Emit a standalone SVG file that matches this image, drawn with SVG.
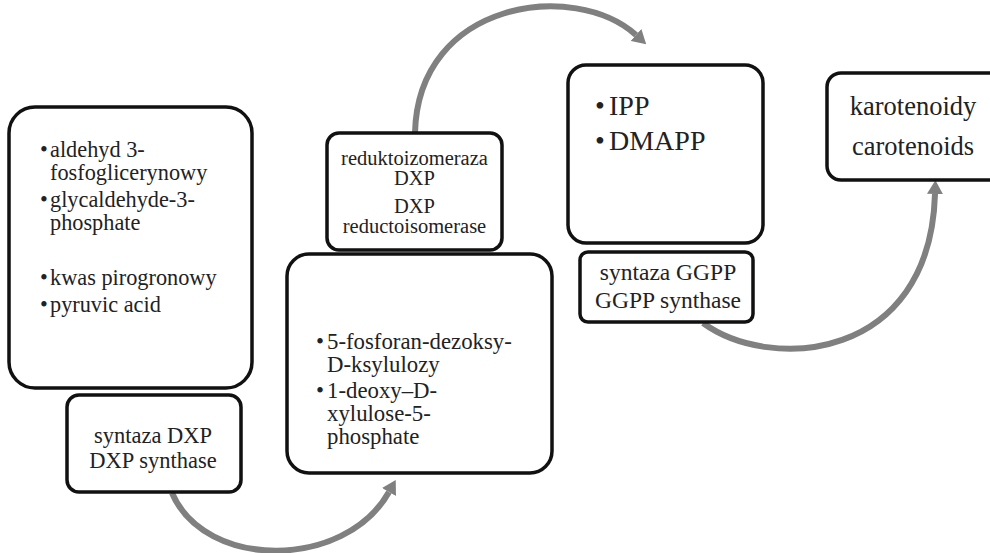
<svg xmlns="http://www.w3.org/2000/svg" width="990" height="553" viewBox="0 0 990 553">
<style>
.box{fill:#fff;stroke:#111;stroke-width:3.5}
text{font-family:'Liberation Serif','Times New Roman','DejaVu Serif',serif;fill:#222}
.c{text-anchor:middle}
.conn{fill:none;stroke:#808080;stroke-width:6}
</style>
<defs>
<marker id="ah" viewBox="0 0 12 14" markerUnits="userSpaceOnUse" markerWidth="14" markerHeight="16" refX="0" refY="7" orient="auto">
<path d="M0,0 L12,7 L0,14 z" fill="#808080"/>
</marker>
</defs>
<rect width="990" height="553" fill="#fff"/>
<g id="connectors">
<path class="conn" d="M172,493 C205,570 345,570 389,492" marker-end="url(#ah)"/>
<path class="conn" d="M415,133 C418,0 575,-20 636,35" marker-end="url(#ah)"/>
<path class="conn" d="M703,323 C770,372 930,362 935,194" marker-end="url(#ah)"/>
</g>
<g id="substrates">
<rect class="box" x="9" y="107" width="243" height="281" rx="26"/>
<g font-family="Liberation Serif, serif" font-size="22.3">
<text x="40" y="157">•</text><text x="50" y="157">aldehyd 3-</text>
<text x="50" y="180">fosfoglicerynowy</text>
<text x="40" y="207">•</text><text x="50" y="207">glycaldehyde-3-</text>
<text x="50" y="230">phosphate</text>
<text x="40" y="285">•</text><text x="50" y="285">kwas pirogronowy</text>
<text x="40" y="312">•</text><text x="50" y="312">pyruvic acid</text>
</g>
</g>
<g id="dxp-synthase">
<rect class="box" x="67" y="395" width="174" height="97" rx="12"/>
<g font-family="Liberation Serif, serif" font-size="22.5">
<text class="c" x="153" y="443">syntaza DXP</text>
<text class="c" x="153" y="468">DXP synthase</text>
</g>
</g>
<g id="dxp-reductoisomerase">
<rect class="box" x="327" y="133" width="175" height="117" rx="12"/>
<g font-family="Liberation Serif, serif" font-size="20.5">
<text class="c" x="414.5" y="165">reduktoizomeraza</text>
<text class="c" x="414.5" y="185">DXP</text>
<text class="c" x="414.5" y="213">DXP</text>
<text class="c" x="414.5" y="233">reductoisomerase</text>
</g>
</g>
<g id="dxp">
<rect class="box" x="287" y="254" width="265" height="219" rx="22"/>
<g font-family="Liberation Serif, serif" font-size="22.8">
<text x="316" y="349">•</text><text x="327" y="349">5-fosforan-dezoksy-</text>
<text x="327" y="372">D-ksylulozy</text>
<text x="316" y="398">•</text><text x="327" y="398">1-deoxy–D-</text>
<text x="327" y="421">xylulose-5-</text>
<text x="327" y="444">phosphate</text>
</g>
</g>
<g id="ipp-dmapp">
<rect class="box" x="568" y="65" width="195" height="178" rx="18"/>
<g font-family="Liberation Serif, serif" font-size="28">
<text x="595" y="115">•</text><text x="609" y="115">IPP</text>
<text x="595" y="150">•</text><text x="609" y="150">DMAPP</text>
</g>
</g>
<g id="ggpp-synthase">
<rect class="box" x="580" y="252" width="173" height="70" rx="8"/>
<g font-family="Liberation Serif, serif" font-size="23.5">
<text class="c" x="668" y="280">syntaza GGPP</text>
<text class="c" x="668" y="308">GGPP synthase</text>
</g>
</g>
<g id="carotenoids">
<rect class="box" x="827" y="73" width="180" height="107" rx="14"/>
<g font-family="Liberation Serif, serif" font-size="26.5">
<text class="c" x="913" y="115">karotenoidy</text>
<text class="c" x="913" y="155">carotenoids</text>
</g>
</g>
</svg>
